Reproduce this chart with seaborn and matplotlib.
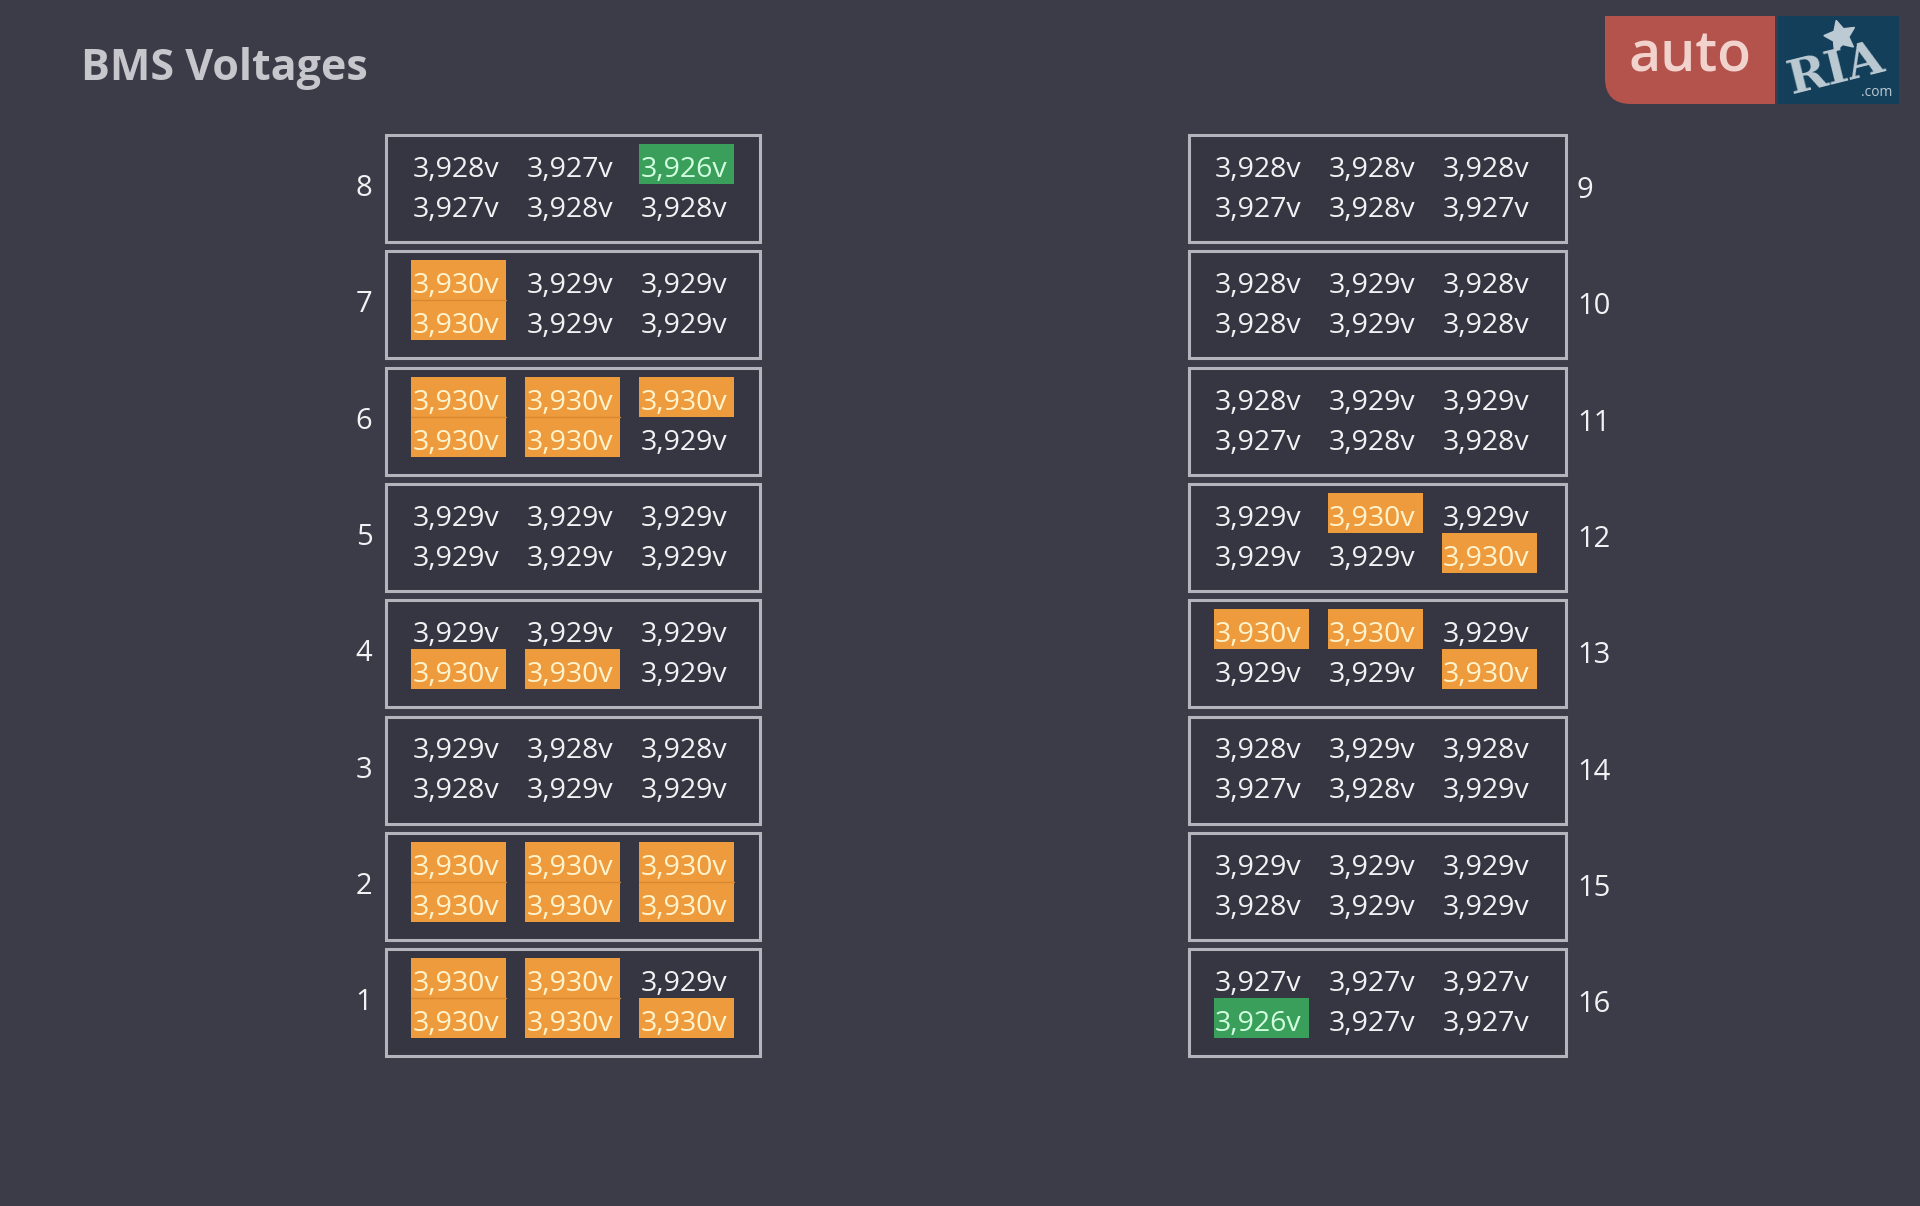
import numpy as np
import matplotlib
matplotlib.use("Agg")
import matplotlib.pyplot as plt
import seaborn as sns
from matplotlib.patches import Rectangle, FancyBboxPatch

# Cell voltages per module: two rows of three cells
module_ids = list(range(1, 17))
row1 = [
    [3.930, 3.930, 3.929],  # 1
    [3.930, 3.930, 3.930],  # 2
    [3.929, 3.928, 3.928],  # 3
    [3.929, 3.929, 3.929],  # 4
    [3.929, 3.929, 3.929],  # 5
    [3.930, 3.930, 3.930],  # 6
    [3.930, 3.929, 3.929],  # 7
    [3.928, 3.927, 3.926],  # 8
    [3.928, 3.928, 3.928],  # 9
    [3.928, 3.929, 3.928],  # 10
    [3.928, 3.929, 3.929],  # 11
    [3.929, 3.930, 3.929],  # 12
    [3.930, 3.930, 3.929],  # 13
    [3.928, 3.929, 3.928],  # 14
    [3.929, 3.929, 3.929],  # 15
    [3.927, 3.927, 3.927],  # 16
]
row2 = [
    [3.930, 3.930, 3.930],  # 1
    [3.930, 3.930, 3.930],  # 2
    [3.928, 3.929, 3.929],  # 3
    [3.930, 3.930, 3.929],  # 4
    [3.929, 3.929, 3.929],  # 5
    [3.930, 3.930, 3.929],  # 6
    [3.930, 3.929, 3.929],  # 7
    [3.927, 3.928, 3.928],  # 8
    [3.927, 3.928, 3.927],  # 9
    [3.928, 3.929, 3.928],  # 10
    [3.927, 3.928, 3.928],  # 11
    [3.929, 3.929, 3.930],  # 12
    [3.929, 3.929, 3.930],  # 13
    [3.927, 3.928, 3.929],  # 14
    [3.928, 3.929, 3.929],  # 15
    [3.926, 3.927, 3.927],  # 16
]

# Colours
bg = "#3c3c49"
box_bg = "#363642"
box_edge = "#b4b4bc"
txt = "#f2f2f4"
hi_color = "#ee9b3d"
hi_line = "#d8892f"
hi_text = "#fff3cc"
lo_color = "#3a9f5b"
lo_text = "#d2ffe0"

sns.set_theme(style="dark", rc={"figure.facecolor": bg, "axes.facecolor": bg})
plt.rcParams['font.family'] = ['Open Sans', 'DejaVu Sans']

fig = plt.figure(figsize=(19.2, 12.06), dpi=100)
ax = fig.add_axes([0, 0, 1, 1])
ax.set_xlim(0, 1920)
ax.set_ylim(1206, 0)
ax.set_axis_off()

# Layout (pixels)
col_x = {0: 386, 1: 1189}
box_w = {0: 374, 1: 377}
box_h = 107
top0, pitch = 135, 116.3
cell_dx = [25, 139, 253]
cell_w, cell_h = 95, 40
cell_dy = 9

all_v = np.array(row1 + row2)
vmax, vmin = all_v.max(), all_v.min()


def fmt(v):
    return f"{v:.3f}".replace(".", ",") + "v"


for k, mid in enumerate(module_ids):
    side = 0 if mid <= 8 else 1
    slot = (8 - mid) if side == 0 else (mid - 9)
    bx = col_x[side]
    bw = box_w[side]
    by = top0 + slot * pitch
    ax.add_patch(Rectangle((bx, by), bw, box_h, facecolor=box_bg,
                           edgecolor=box_edge, linewidth=2.2, zorder=1))
    rows = [row1[k], row2[k]]
    for r, vals in enumerate(rows):
        for c, v in enumerate(vals):
            x0 = bx + cell_dx[c]
            y0 = by + cell_dy + r * cell_h
            color = txt
            if v == vmax:
                ax.add_patch(Rectangle((x0, y0), cell_w, cell_h, facecolor=hi_color,
                                       edgecolor="none", zorder=2))
                if r == 1 and rows[0][c] == vmax:
                    ax.plot([x0, x0 + cell_w], [y0, y0], color=hi_line, lw=1, zorder=3)
                color = hi_text
            elif v == vmin:
                ax.add_patch(Rectangle((x0, y0), cell_w, cell_h, facecolor=lo_color,
                                       edgecolor="none", zorder=2))
                color = lo_text
            ax.text(x0 + cell_w / 2 - 3, y0 + 33, fmt(v), color=color, fontsize=20.5,
                    ha="center", va="baseline", zorder=4)
    if side == 0:
        ax.text(bx - 22, by + box_h / 2, str(mid), color=txt, fontsize=21,
                ha="center", va="center", zorder=4)
    else:
        ax.text(bx + bw + 11, by + box_h / 2 + 2, str(mid), color=txt, fontsize=21,
                ha="left", va="center", zorder=4)

# Title
ax.text(81, 80, "BMS Voltages", color="#c6c6cc", fontsize=31, fontweight="bold",
        ha="left", va="baseline")

# Logo
ax.add_patch(FancyBboxPatch((1605, 16), 170, 88, boxstyle="round,pad=0,rounding_size=26",
                            facecolor="#b4534b", edgecolor="none", zorder=5))
ax.add_patch(Rectangle((1605, 16), 170, 40, facecolor="#b4534b", edgecolor="none", zorder=5))
ax.add_patch(Rectangle((1680, 16), 95, 88, facecolor="#b4534b", edgecolor="none", zorder=5))
ax.add_patch(Rectangle((1778, 16), 121, 88, facecolor="#133f5a", edgecolor="none", zorder=5))
ax.text(1690, 58, "auto", color="#f2d2cd", fontsize=40, fontweight="semibold",
        ha="center", va="center", zorder=6)
ax.text(1836, 70, "RIA", color="#bccad3", fontsize=34, fontweight="bold",
        family=["DejaVu Serif"], rotation=14, ha="center", va="center", zorder=6)
ax.plot([1840], [36], marker=(5, 1, 15), markersize=24, color="#bccad3", zorder=6)
ax.text(1877, 93, ".com", color="#bccad3", fontsize=10, ha="center", va="center", zorder=6)

fig.savefig("out.png", dpi=100, facecolor=bg)
